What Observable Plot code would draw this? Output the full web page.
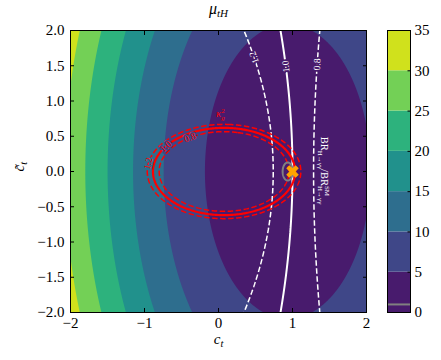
<!DOCTYPE html>
<html><head><meta charset="utf-8">
<script src="https://cdn.jsdelivr.net/npm/d3@7"></script>
<script src="https://cdn.jsdelivr.net/npm/@observablehq/plot@0.6"></script>
<style>
html,body{margin:0;padding:0;background:#fff;}
#chart{position:relative;width:441px;height:360px;overflow:hidden;background:#fff;}
#chart svg{position:absolute;left:0;top:0;}
</style></head><body><div id="chart"></div>
<script>
// ---------------- data ----------------
const xTicks = [-2, -1, 0, 1, 2];
const yTicks = [-2, -1.5, -1, -0.5, 0, 0.5, 1, 1.5, 2];
const cbTicks = [0, 5, 10, 15, 20, 25, 30, 35];
const muLevels = [0, 5, 10, 15, 20, 25, 30, 35];
const muGreyLevel = [1.0];
// mu_tH surface fitted to the filled-contour crossings:
// curvature along c_t and c~_t, then position and value of the minimum
const muCurvature = [3.21, 0.92];
const muMinimum = [0.935, 0.985];
// BR(H->gg)/BR_SM: loop amplitudes (W, top CP-even, top CP-odd), gg width share, CP-odd gg boost
const brAmplitudes = [1.284, -0.284, 0.44];
const brWidthTerms = [0.086, 2.6];
const brLevels = [0.8, 1.0, 1.2];
const brLabelText = ["1.2", "1.0", "0.8"];
const brLabelLevel = [1.2, 1.0, 0.8];
const brLabelAt = [1.617, 1.49, 1.52];      // c~_t of each inline label
const brLabelAngle = [-111, -95, -88];
// kappa_g^2 ellipses: curvature along c_t and c~_t, centre c_t, offset
const kgCurvature = [1.3, 3.13];
const kgCentre = [0.075];
const kgOffset = [-0.2];
const kgLevels = [0.8, 1.0, 1.2];
const kgLabelText = ["1.2", "1.0", "0.8"];
const kgLabelLevel = [1.2, 1.0, 0.8];
const kgLabelAt = [0.113, 0.355, 0.482];
const kgLabelAngle = [-76, -42, -20];
const smPoint = [{ct: 1, cpt: 0}];
const kgTitleAt = [{ct: 0.027, cpt: 0.823}];
const brTitleAt = [{ct: 1.432, cpt: 0.014}];

// ---------------- model functions ----------------
const mu = (c, t) => muCurvature[0] * (c - muMinimum[0]) ** 2 + muCurvature[1] * t * t + muMinimum[1];
const br = (c, t) => ((brAmplitudes[0] + brAmplitudes[1] * c) ** 2 + (brAmplitudes[2] * t) ** 2) /
  (1 + brWidthTerms[0] * (c * c + brWidthTerms[1] * t * t - 1));
const kg = (c, t) => kgCurvature[0] * (c - kgCentre[0]) ** 2 + kgCurvature[1] * t * t + kgOffset[0];
function solveC(f, level, t, lo, hi) {
  const sLo = f(lo, t) > level;
  for (let k = 0; k < 60; k++) { const m = (lo + hi) / 2; if ((f(m, t) > level) === sLo) lo = m; else hi = m; }
  return (lo + hi) / 2;
}

const FONT = "'Liberation Serif', 'DejaVu Serif', serif";
const muTop = muLevels[muLevels.length - 1];
const bandColors = muLevels.slice(0, -1).map((l, i) => d3.interpolateViridis((l + muLevels[i + 1]) / 2 / muTop));
const colorScale = {type: "threshold", domain: muLevels.slice(1, -1), range: bandColors};
const bandColorOf = v => bandColors[d3.bisectRight(muLevels.slice(1, -1), v)];

const ext = {x1: -2.6, x2: 2.6, y1: -2.6, y2: 2.6};
const lineContour = (f, levels, o) => Plot.contour({...ext, value: f, thresholds: levels, fill: "none", clip: true, pixelSize: 1, ...o});
const fmtX = d => (d < 0 ? "\u2212" : "") + Math.abs(d);
const fmtY = d => (d < 0 ? "\u2212" : "") + Math.abs(d).toFixed(1);

const brLabelMarks = brLabelText.map((s, i) => {
  const t = brLabelAt[i], c = solveC(br, brLabelLevel[i], t, -0.5, 2.5);
  return Plot.text([{ct: c, cpt: t}], {x: "ct", y: "cpt", text: () => s, rotate: brLabelAngle[i], fill: "white",
    stroke: bandColorOf(mu(c, t)), strokeWidth: 3.5, paintOrder: "stroke", strokeLinejoin: "round", fontSize: 9.5});
});
const kgLabelMarks = kgLabelText.map((s, i) => {
  const t = kgLabelAt[i], c = solveC(kg, kgLabelLevel[i], t, -2, kgCentre[0]);
  return Plot.text([{ct: c, cpt: t}], {x: "ct", y: "cpt", text: () => s, rotate: kgLabelAngle[i], fill: "red",
    stroke: bandColorOf(mu(c, t)), strokeWidth: 3, paintOrder: "stroke", strokeLinejoin: "round", fontSize: 9.5});
});

const main = Plot.plot({
  width: 441, height: 360, marginLeft: 70, marginRight: 75, marginTop: 30, marginBottom: 48,
  style: {fontFamily: FONT, fontSize: "15px", background: "transparent", color: "black"},
  x: {domain: [-2, 2], label: null},
  y: {domain: [-2, 2], label: null},
  color: colorScale,
  marks: [
    Plot.contour({x1: -2, x2: 2, y1: -2, y2: 2, fill: mu, thresholds: muLevels, stroke: "none", pixelSize: 1}),
    lineContour(br, [1.0], {stroke: "white", strokeWidth: 2}),
    lineContour(br, [brLevels[0], brLevels[2]], {stroke: "white", strokeWidth: 1.5, strokeDasharray: "5.5,2.5"}),
    lineContour(kg, [1.0], {stroke: "red", strokeWidth: 2.2}),
    lineContour(kg, [kgLevels[0], kgLevels[2]], {stroke: "red", strokeWidth: 1.5, strokeDasharray: "5.5,2.5"}),
    lineContour(mu, muGreyLevel, {stroke: "grey", strokeWidth: 2, pixelSize: 0.5}),
    ...brLabelMarks,
    ...kgLabelMarks,
    Plot.text(kgTitleAt, {x: "ct", y: "cpt", text: () => "KGTITLE", fill: "red", fontSize: 10}),
    Plot.text(brTitleAt, {x: "ct", y: "cpt", text: () => "BRTITLE", fill: "white", fontSize: 10.5, rotate: 90}),
    Plot.dot(smPoint, {x: "ct", y: "cpt", symbol: "cross", rotate: 45, r: 5.6, fill: "#ffa500"}),
    Plot.frame({stroke: "black"}),
    Plot.axisX({ticks: xTicks, anchor: "bottom", tickSize: 4, dy: -4, fill: "none"}),
    Plot.axisX({ticks: xTicks, anchor: "top", tickSize: 4, dy: 4, fill: "none"}),
    Plot.axisY({ticks: yTicks, anchor: "left", tickSize: 4, dx: 4, fill: "none"}),
    Plot.axisY({ticks: yTicks, anchor: "right", tickSize: 4, dx: -4, fill: "none"}),
    Plot.axisX({ticks: xTicks, anchor: "bottom", tickSize: 0, tickPadding: 5, tickFormat: fmtX, label: null}),
    Plot.axisY({ticks: yTicks, anchor: "left", tickSize: 0, tickPadding: 6, tickFormat: fmtY, label: null}),
    Plot.text(["TITLE"], {text: d => d, frameAnchor: "top", lineAnchor: "bottom", dy: -17, fontSize: 16}),
    Plot.text(["XLABEL"], {text: d => d, frameAnchor: "bottom", dy: 31, fontSize: 15}),
    Plot.text(["YLABEL"], {text: d => d, frameAnchor: "left", dx: -51, rotate: -90, fontSize: 15})
  ]
});

const cbBands = muLevels.slice(0, -1).map((lo, i) => ({lo, hi: muLevels[i + 1]}));
const cb = Plot.plot({
  width: 441, height: 360, marginLeft: 387, marginRight: 31, marginTop: 30, marginBottom: 48,
  style: {fontFamily: FONT, fontSize: "15px", background: "transparent", color: "black"},
  x: {domain: [0, 1], axis: null},
  y: {domain: [0, muTop], label: null},
  color: colorScale,
  marks: [
    Plot.rect(cbBands, {x1: 0, x2: 1, y1: "lo", y2: "hi", fill: "lo"}),
    Plot.ruleY(muGreyLevel, {stroke: "grey", strokeWidth: 2}),
    Plot.frame({stroke: "black"}),
    Plot.axisY({ticks: cbTicks, anchor: "right", tickSize: 3.5, dx: -3.5, fill: "none"}),
    Plot.axisY({ticks: cbTicks, anchor: "right", tickSize: 0, tickPadding: 4, label: null})
  ]
});

const host = document.getElementById("chart");
host.append(main, cb);

function rich(svg, key, parts) {
  d3.select(svg).selectAll("text").filter(function () { return this.textContent === key; }).each(function () {
    const t = d3.select(this).text(null);
    let prev = null;
    for (const p of parts) {
      const s = t.append("tspan").text(p.t);
      if (p.it) s.attr("font-style", "italic");
      if (p.fs) s.attr("font-size", p.fs);
      if (p.bs) s.attr("baseline-shift", p.bs);
      if (p.back && prev) s.attr("dx", -prev.node().getComputedTextLength());
      prev = s;
    }
  });
}
rich(main, "TITLE", [{t: "\u03bc", it: 1}, {t: "tH", it: 1, fs: "11px", bs: "-3px"}]);
rich(main, "XLABEL", [{t: "c", it: 1}, {t: "t", it: 1, fs: "10.5px", bs: "-3px"}]);
rich(main, "YLABEL", [{t: "c\u0303", it: 1}, {t: "t", it: 1, fs: "10.5px", bs: "-3px"}]);
rich(main, "KGTITLE", [{t: "\u03ba", it: 1}, {t: "2", fs: "7px", bs: "4px"}, {t: "g", it: 1, fs: "7px", bs: "-2.5px", back: 1}]);
rich(main, "BRTITLE", [{t: "BR"}, {t: "H\u2192\u03b3\u03b3", fs: "7px", bs: "-2.5px"}, {t: "/BR"},
  {t: "SM", fs: "7px", bs: "4.5px"}, {t: "H\u2192\u03b3\u03b3", fs: "7px", bs: "-2.5px", back: 1}]);
</script></body></html>
